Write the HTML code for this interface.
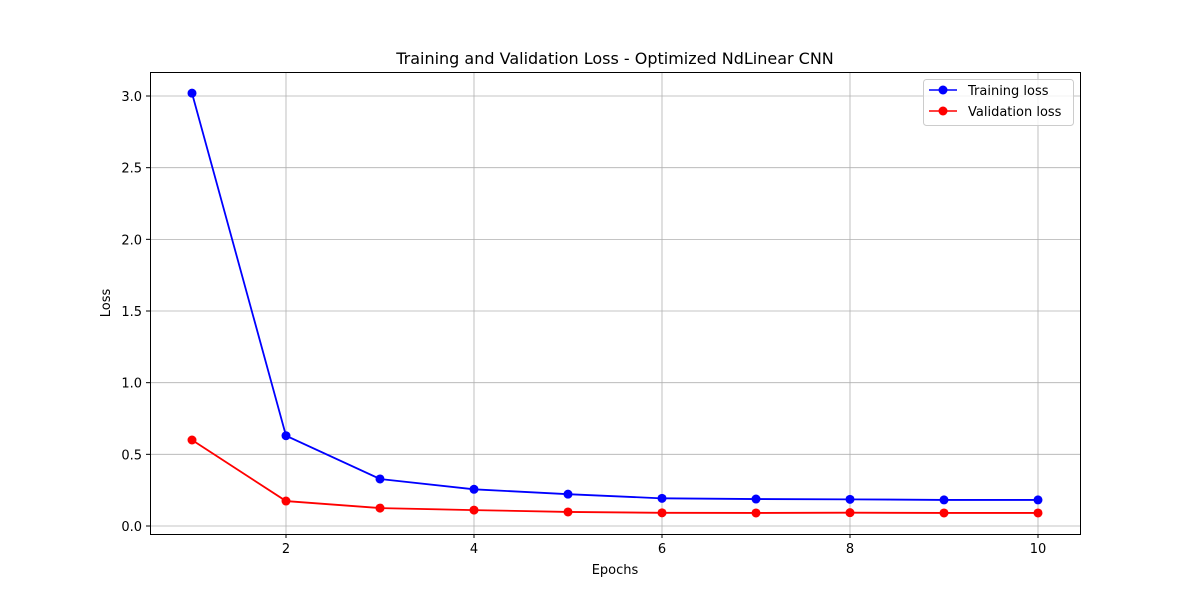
<!DOCTYPE html>
<html><head><meta charset="utf-8"><style>
body{margin:0;background:#fff}
svg{display:block;font-family:"DejaVu Sans","Liberation Sans",sans-serif}
</style></head><body>
<svg id="chart" width="1200" height="600" xmlns="http://www.w3.org/2000/svg">
<rect width="1200" height="600" fill="#fff"/>
<g id="grid"></g><g id="ticks"></g><g id="series"></g>
<rect x="150.5" y="72.5" width="930" height="462" fill="none" stroke="#000" stroke-width="1"/>
<text x="615" y="64" text-anchor="middle" font-size="16">Training and Validation Loss - Optimized NdLinear CNN</text>
<text x="615" y="574" text-anchor="middle" font-size="13">Epochs</text>
<text x="110" y="303" text-anchor="middle" font-size="13" transform="rotate(-90 110 303)">Loss</text>
<g>
<rect x="923.5" y="79.5" width="150" height="46" rx="3" fill="#fff" fill-opacity="0.8" stroke="#ccc"/>
<g>
<line x1="929" y1="90" x2="957" y2="90" stroke="#0000ff" stroke-width="1.5"/><circle cx="943" cy="90" r="4.5" fill="#0000ff"/>
<text x="968" y="95" font-size="13">Training loss</text></g>
<g>
<line x1="929" y1="111" x2="957" y2="111" stroke="#ff0000" stroke-width="1.5"/><circle cx="943" cy="111" r="4.5" fill="#ff0000"/>
<text x="968" y="116" font-size="13">Validation loss</text></g>
</g>
</svg>
<script>
const epochs=[1,2,3,4,5,6,7,8,9,10];
const trainLoss=[3.02,0.63,0.328,0.256,0.222,0.193,0.188,0.186,0.182,0.182];
const valLoss=[0.60,0.174,0.125,0.111,0.098,0.092,0.091,0.093,0.091,0.091];
const xTicks=[2,4,6,8,10];
const yTicks=[0.0,0.5,1.0,1.5,2.0,2.5,3.0];
const NS="http://www.w3.org/2000/svg";
const xs=v=>192+(v-1)*94;
const ys=v=>526-v*143.33;
const grid=document.getElementById('grid'),ticks=document.getElementById('ticks'),ser=document.getElementById('series');
function mk(t,a,p){const e=document.createElementNS(NS,t);for(const k in a)e.setAttribute(k,a[k]);p.appendChild(e);return e;}
xTicks.forEach(v=>{const x=xs(v);
const g=mk('line',{x1:x,x2:x,y1:72,y2:534,stroke:'#b0b0b0','stroke-width':0.8},grid);


mk('line',{x1:x,x2:x,y1:534,y2:538,stroke:'#000'},ticks);
const t=mk('text',{x:x,y:553,'text-anchor':'middle','font-size':13},ticks);t.textContent=v;

});
yTicks.forEach(v=>{const y=ys(v);
const g=mk('line',{x1:150,x2:1080,y1:y,y2:y,stroke:'#b0b0b0','stroke-width':0.8},grid);


mk('line',{x1:146,x2:150,y1:y,y2:y,stroke:'#000'},ticks);
const t=mk('text',{x:142,y:y+5,'text-anchor':'end','font-size':13},ticks);t.textContent=v.toFixed(1);

});
function draw(vals,color,name){
const p=mk('polyline',{points:vals.map((v,i)=>xs(epochs[i])+','+ys(v)).join(' '),fill:'none',stroke:color,'stroke-width':1.8},ser);


vals.forEach((v,i)=>{const c=mk('circle',{cx:xs(epochs[i]),cy:ys(v),r:4.5,fill:color},ser);

});}
draw(trainLoss,'#0000ff','training-loss');
draw(valLoss,'#ff0000','validation-loss');
</script>
</body></html>
